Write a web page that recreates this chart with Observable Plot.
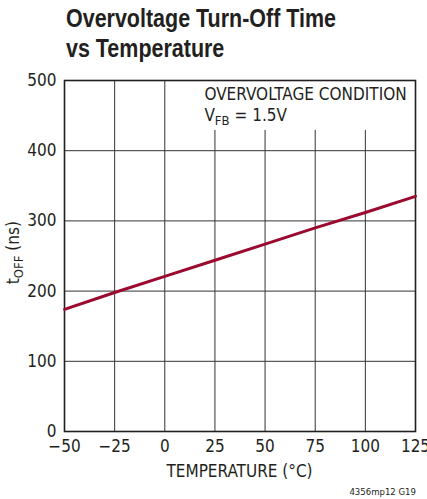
<!DOCTYPE html>
<html>
<head>
<meta charset="utf-8">
<script src="https://cdn.jsdelivr.net/npm/d3@7"></script>
<script src="https://cdn.jsdelivr.net/npm/@observablehq/plot@0.6"></script>
<style>
  html, body { margin: 0; padding: 0; background: #fff; }
  #wrap { position: relative; width: 427px; height: 499px; overflow: hidden; font-family: "DejaVu Sans Condensed", sans-serif; }
  #title { position: absolute; left: 66px; top: 3px; font-family: "Liberation Sans", Arial, sans-serif; font-size: 26px; font-weight: bold; line-height: 30px; color: #231f20; transform-origin: 0 0; white-space: nowrap; }
  #chart { position: absolute; left: 0; top: 66px; }
  #caption { position: absolute; right: 11px; top: 486px; font-size: 9.5px; color: #231f20; }
</style>
</head>
<body>
<div id="wrap">
  <div id="title">Overvoltage Turn-Off Time<br>vs Temperature</div>
  <div id="chart"></div>
  <div id="caption">4356mp12 G19</div>
</div>
<script>
const temperature = [-50, -25, 0, 25, 50, 75, 100, 125];
const tOff = [174, 198, 221, 244, 267, 290, 312, 335];
const xTicks = [-50, -25, 0, 25, 50, 75, 100, 125];
const yTicks = [0, 100, 200, 300, 400, 500];

const data = temperature.map((t, i) => ({t, v: tOff[i]}));
const ink = "#231f20";
const fam = "DejaVu Sans Condensed, sans-serif";

// condense the title to match the reference width
const title = document.getElementById("title");
const tw = title.getBoundingClientRect().width;
title.style.transform = `scaleX(${270 / tw})`;

const plot = Plot.plot({
  width: 427,
  height: 433,
  marginLeft: 64,
  marginRight: 12,
  marginTop: 14,
  marginBottom: 68,
  style: {fontFamily: fam, fontSize: "17px", color: ink, background: "white", overflow: "visible"},
  x: {domain: [-50, 125], ticks: xTicks, label: null},
  y: {domain: [0, 500], ticks: yTicks, label: null},
  marks: [
    Plot.gridX(xTicks, {stroke: "#333", strokeOpacity: 1, strokeWidth: 1}),
    Plot.gridY(yTicks, {stroke: "#333", strokeOpacity: 1, strokeWidth: 1}),
    Plot.rect([{}], {x1: 12, x2: 124, y1: 429, y2: 499.5, fill: "white"}),
    Plot.frame({stroke: ink, strokeWidth: 1.6}),
    Plot.axisX(xTicks, {tickSize: 0, tickPadding: 8, fontSize: 17, fill: ink}),
    Plot.axisY(yTicks, {tickSize: 0, tickPadding: 8, fontSize: 17, fill: ink}),
    Plot.line(data, {x: "t", y: "v", stroke: "#9b0a2e", strokeWidth: 3})
  ]
});
document.getElementById("chart").appendChild(plot);

const sx = plot.scale("x"), sy = plot.scale("y");
const svg = d3.select(plot);

// annotation
const ax = sx.apply(20);
svg.append("text").attr("x", ax).attr("y", sy.apply(472)).attr("text-anchor", "start")
  .attr("font-size", 17).attr("font-family", fam).attr("fill", ink)
  .text("OVERVOLTAGE CONDITION");
const t2 = svg.append("text").attr("x", ax).attr("y", sy.apply(441)).attr("text-anchor", "start")
  .attr("font-size", 17).attr("font-family", fam).attr("fill", ink);
t2.append("tspan").text("V");
t2.append("tspan").attr("dy", 4).attr("font-size", 13).text("FB");
t2.append("tspan").attr("dy", -4).text(" = 1.5V");

// y label
const yl = svg.append("text").attr("transform", `translate(19,${sy.apply(254)}) rotate(-90)`)
  .attr("text-anchor", "middle").attr("font-size", 17).attr("font-family", fam).attr("fill", ink);
yl.append("tspan").text("t");
yl.append("tspan").attr("dy", 4).attr("font-size", 13).text("OFF");
yl.append("tspan").attr("dy", -4).text(" (ns)");

// x label
svg.append("text").attr("x", sx.apply(37.5)).attr("y", 411).attr("text-anchor", "middle")
  .attr("font-size", 17).attr("font-family", fam).attr("fill", ink).text("TEMPERATURE (°C)");
</script>
</body>
</html>
